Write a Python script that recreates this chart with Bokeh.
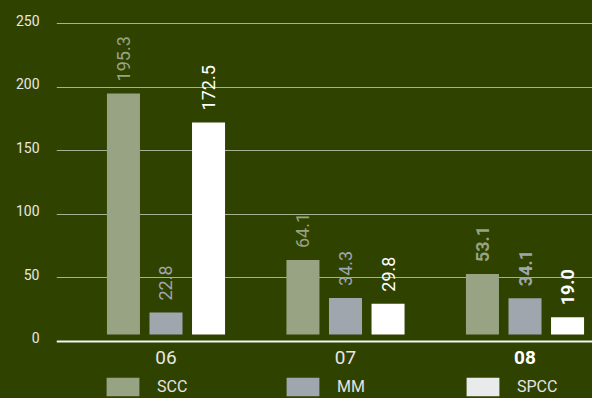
import numpy as np
from bokeh.plotting import figure
from bokeh.models import Range1d, FixedTicker, ColumnDataSource, Legend, LegendItem, Span
from bokeh.core.properties import value
from bokeh.embed import file_html
from bokeh.resources import INLINE

# ---- data ----
categories = ["06", "07", "08"]
series = ["SCC", "MM", "SPCC"]
scc = [195.3, 64.1, 53.1]
mm = [22.8, 34.3, 34.1]
spcc = [172.5, 29.8, 19.0]
y_ticks = [0, 50, 100, 150, 200, 250]
highlight = "08"

# ---- style ----
BG = "#304200"
FONT = "Roboto"
bar_colors = {"SCC": "#98a383", "MM": "#a0a6ae", "SPCC": "#ffffff"}
legend_colors = {"SCC": "#98a383", "MM": "#a0a6ae", "SPCC": "#e8eaec"}
label_colors = {"SCC": "#98a383", "MM": "#a0a6ae", "SPCC": "#ffffff"}
offsets = {"SCC": -0.237, "MM": 0.0, "SPCC": 0.237}
BAR_W = 0.184
BASE = 5.5
CAT_LABEL_Y = -12.6
TICK_LABEL_LIFT = 3  # tick labels sit slightly above their grid lines

values = {"SCC": scc, "MM": mm, "SPCC": spcc}

p = figure(width=592, height=398, output_backend="svg", toolbar_location=None,
           x_range=Range1d(-0.11, 2.876), y_range=Range1d(-44.9, 268.5),
           min_border_left=56, min_border_right=0, min_border_top=0, min_border_bottom=0)
p.background_fill_color = BG
p.border_fill_color = BG
p.outline_line_color = None
p.styles = {"background-color": BG}

centers = np.arange(len(categories)) + 0.5
for s in series:
    xs = centers + offsets[s]
    src = ColumnDataSource(dict(
        x=xs, top=values[s],
        label=[f"{v:.1f}" for v in values[s]],
        style=["bold" if c == highlight else "normal" for c in categories],
    ))
    p.vbar(x="x", top="top", bottom=BASE, width=BAR_W, source=src,
           fill_color=bar_colors[s], line_color=None)
    p.text(x="x", y="top", text="label", source=src, angle=np.pi / 2,
           text_align="left", text_baseline="middle", y_offset=-12,
           text_color=label_colors[s], text_font=value(FONT),
           text_font_size="18px", text_font_style="style")

# baseline (x axis line)
p.add_layout(Span(location=0, dimension="width", line_color="#f4f4f0", line_width=2))

# category labels
cat_src = ColumnDataSource(dict(
    x=centers, y=[CAT_LABEL_Y] * len(categories), text=categories,
    style=["bold" if c == highlight else "normal" for c in categories],
    color=["#ffffff" if c == highlight else "#e8e8e0" for c in categories],
))
p.text(x="x", y="y", text="text", source=cat_src, text_align="center",
       text_baseline="middle", text_font=value(FONT), text_font_size="19px",
       text_font_style="style", text_color="color")

# legend (swatch-only renderers carrying the legend colours)
items = []
for s in series:
    r = p.vbar(x=[np.nan], top=[np.nan], width=0.1, fill_color=legend_colors[s], line_color=None)
    items.append(LegendItem(label=s, renderers=[r]))
legend = Legend(items=items, orientation="horizontal", location=(46, 0),
                glyph_width=41, glyph_height=23, label_standoff=14, label_width=125,
                label_height=23, spacing=0, padding=0, margin=0,
                border_line_color=None, background_fill_alpha=0,
                label_text_font=FONT, label_text_font_size="16px",
                label_text_color="#e4e4e4", label_text_baseline="middle")
p.add_layout(legend)

# axes
label_ticks = [t + TICK_LABEL_LIFT for t in y_ticks]
p.yaxis.ticker = FixedTicker(ticks=label_ticks)
p.yaxis.major_label_overrides = {lt: str(t) for lt, t in zip(label_ticks, y_ticks)}
p.yaxis.axis_line_color = None
p.yaxis.major_tick_line_color = None
p.yaxis.minor_tick_line_color = None
p.yaxis.major_label_text_font = FONT
p.yaxis.major_label_text_font_size = "14px"
p.yaxis.major_label_text_color = "#e8e8e0"
p.yaxis.major_label_standoff = 11
p.xaxis.visible = False

p.ygrid.ticker = FixedTicker(ticks=y_ticks[1:])
p.ygrid.grid_line_color = "#a8b094"
p.ygrid.grid_line_width = 1
p.xgrid.grid_line_color = None

open("out.html", "w").write(file_html(p, INLINE))
